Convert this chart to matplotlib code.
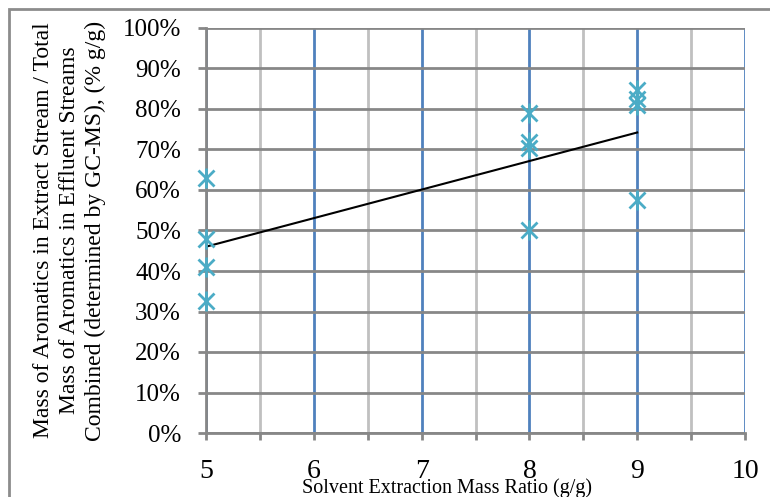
import matplotlib
matplotlib.use("Agg")
import matplotlib.pyplot as plt
from matplotlib.patches import Rectangle
from matplotlib.ticker import MultipleLocator, PercentFormatter

# data
ratio = [5, 5, 5, 5, 8, 8, 8, 8, 9, 9, 9, 9]
aromatics = [63.0, 47.9, 41.1, 32.5, 78.9, 71.9, 70.3, 50.1, 84.7, 82.5, 81.0, 57.5]
trend_x = [5, 9]
trend_y = [46.0, 74.2]

xlabel = "Solvent Extraction Mass Ratio (g/g)"
ylabel = ("Mass of Aromatics in Extract Stream / Total\n"
          "Mass of Aromatics in Effluent Streams\n"
          "Combined (determined by GC-MS), (% g/g)")

plt.rcParams['font.family'] = ['Liberation Serif', 'DejaVu Serif']

fig = plt.figure(figsize=(7.7, 4.97), dpi=100)
ax = fig.add_axes([206 / 770, 64 / 497, 539 / 770, 405 / 497])

# outer chart border (cut off at right and bottom)
fig.patches.append(Rectangle((8.5 / 770, -0.1), 2, (497 - 9) / 497 + 0.1,
                             transform=fig.transFigure, fill=False,
                             edgecolor="#8c8c8c", linewidth=2, clip_on=False))

ax.set_xlim(5, 10)
ax.set_ylim(0, 100)
ax.xaxis.set_major_locator(MultipleLocator(1))
ax.xaxis.set_minor_locator(MultipleLocator(0.5))
ax.yaxis.set_major_locator(MultipleLocator(10))
ax.yaxis.set_major_formatter(PercentFormatter(decimals=0))

ax.grid(which="minor", axis="x", color="#c0c0c0", linewidth=2)
ax.grid(which="major", axis="x", color="#4f81bd", linewidth=2)
ax.grid(which="major", axis="y", color="#878787", linewidth=2)
ax.set_axisbelow(True)

for s in ["top", "right"]:
    ax.spines[s].set_visible(False)
for s in ["left", "bottom"]:
    ax.spines[s].set_color("#878787")
    ax.spines[s].set_linewidth(2)
    ax.spines[s].set_zorder(1.5)

ax.tick_params(axis="y", which="major", direction="out", length=6,
               width=2, color="#878787", labelsize=18, pad=12)
ax.tick_params(axis="x", which="both", direction="out", length=5,
               width=2, color="#878787")
ax.tick_params(axis="x", which="major", labelsize=20, pad=14)

ax.plot(trend_x, trend_y, color="black", linewidth=1.5, zorder=3)
ax.plot(ratio, aromatics, linestyle="none", marker="x", markersize=12,
        markeredgewidth=2, color="#4bacc6", zorder=4, clip_on=False)
ax.plot(ratio, aromatics, linestyle="none", marker="|", markersize=14,
        markeredgewidth=2, color="#4bacc6", zorder=4, clip_on=False)

ax.set_xlabel(xlabel, fontsize=14.5)
ax.xaxis.set_label_coords(0.448, -0.112)
ax.set_ylabel(ylabel, fontsize=17, labelpad=12, linespacing=1.3)

fig.savefig("out.png", dpi=100)
